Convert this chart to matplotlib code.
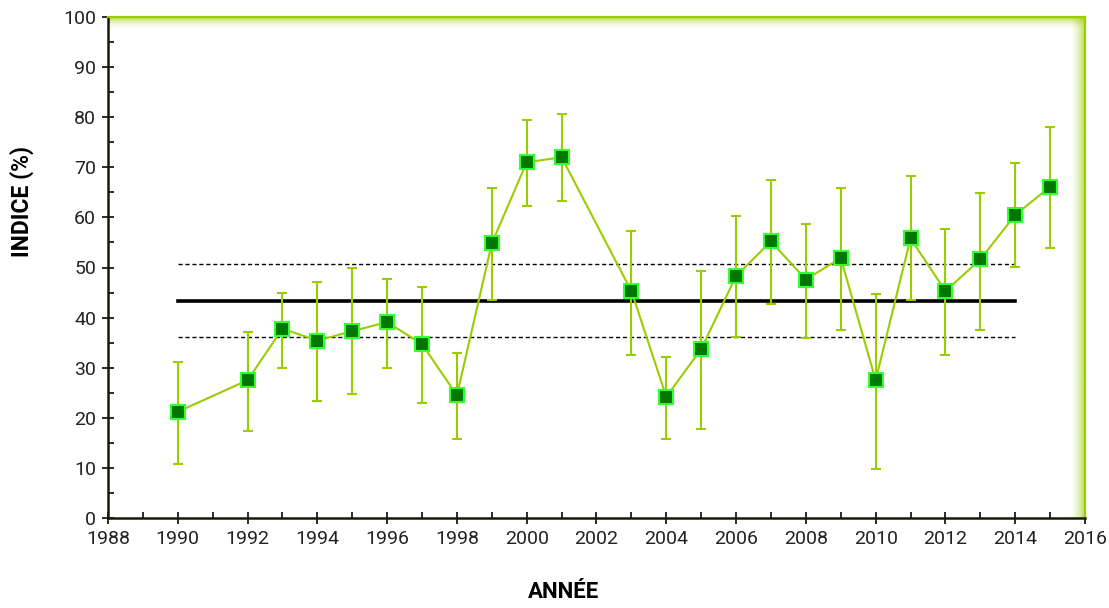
import numpy as np
import matplotlib
matplotlib.use("Agg")
import matplotlib.pyplot as plt
from matplotlib.ticker import MultipleLocator

# indice annuel et intervalle de confiance
annees = [1990, 1992, 1993, 1994, 1995, 1996, 1997, 1998, 1999, 2000, 2001,
          2003, 2004, 2005, 2006, 2007, 2008, 2009, 2010, 2011, 2012, 2013,
          2014, 2015]
indice = [21.2, 27.5, 37.8, 35.4, 37.3, 39.1, 34.7, 24.5, 54.8, 71.0, 72.0,
          45.3, 24.2, 33.7, 48.3, 55.2, 47.6, 51.9, 27.5, 55.8, 45.3, 51.6,
          60.5, 66.1]
borne_inf = [10.8, 17.4, 30.0, 23.4, 24.7, 30.0, 23.0, 15.8, 43.5, 62.3, 63.3,
             32.6, 15.8, 17.8, 36.2, 42.8, 35.9, 37.5, 9.8, 43.5, 32.5, 37.5,
             50.1, 53.8]
borne_sup = [31.2, 37.2, 45.0, 47.1, 50.0, 47.7, 46.1, 32.9, 65.9, 79.4, 80.6,
             57.3, 32.2, 49.4, 60.3, 67.5, 58.6, 65.9, 44.8, 68.2, 57.7, 64.9,
             70.9, 78.1]

# moyenne de la serie et ses bornes
moy_debut, moy_fin = 1990, 2014
moyenne = 43.3
moy_inf = 36.2
moy_sup = 50.7

VERT = "#9ACD00"
police = ["Liberation Sans Narrow", "Roboto", "DejaVu Sans"]

fig = plt.figure(figsize=(11.09, 6.08), dpi=100)
ax = fig.add_axes([108 / 1109, 90 / 608, 977 / 1109, 501 / 608])

y = np.array(indice)
yerr = [y - np.array(borne_inf), np.array(borne_sup) - y]

# lignes de moyenne
ax.plot([moy_debut, moy_fin], [moyenne, moyenne], color="black", lw=2.6, zorder=2)
ax.plot([moy_debut, moy_fin], [moy_sup, moy_sup], color="black", lw=1.0,
        dashes=(3, 2), zorder=2)
ax.plot([moy_debut, moy_fin], [moy_inf, moy_inf], color="black", lw=1.0,
        dashes=(3, 2), zorder=2)

ax.errorbar(annees, y, yerr=yerr, fmt="none", ecolor=VERT, elinewidth=1.5,
            capsize=3.6, capthick=1.5, zorder=3)
ax.plot(annees, y, color=VERT, lw=1.5, marker="s", markersize=10,
        markerfacecolor="#007800", markeredgecolor="#33FF33",
        markeredgewidth=1.5, zorder=4)

# halo vert le long du cadre haut et droit
r, g, b = matplotlib.colors.to_rgb(VERT)
haut = np.zeros((30, 2, 4))
haut[..., 0], haut[..., 1], haut[..., 2] = r, g, b
haut[..., 3] = np.linspace(0.75, 0, 30)[:, None] ** 1.5
ax.imshow(haut, extent=[0, 1, 1 - 12 / 501, 1], transform=ax.transAxes,
          aspect="auto", zorder=1, interpolation="bilinear")
droite = np.zeros((2, 30, 4))
droite[..., 0], droite[..., 1], droite[..., 2] = r, g, b
droite[..., 3] = np.linspace(0, 0.75, 30)[None, :] ** 1.5
ax.imshow(droite, extent=[1 - 15 / 977, 1, 0, 1], transform=ax.transAxes,
          aspect="auto", zorder=1, interpolation="bilinear")

ax.set_xlim(1988, 2016)
ax.set_ylim(0, 100)
ax.xaxis.set_major_locator(MultipleLocator(2))
ax.xaxis.set_minor_locator(MultipleLocator(1))
ax.yaxis.set_major_locator(MultipleLocator(10))
ax.yaxis.set_minor_locator(MultipleLocator(5))

ax.tick_params(which="major", direction="inout", length=9, width=1.3,
               color="#1a1a1a", labelsize=14, pad=4)
ax.tick_params(which="minor", direction="in", length=4, width=1.3,
               color="#1a1a1a")
for lab in ax.get_xticklabels() + ax.get_yticklabels():
    lab.set_family(police)
    lab.set_color("#222222")

for cote in ["left", "bottom"]:
    ax.spines[cote].set_color("#1a1a00")
    ax.spines[cote].set_linewidth(1.8)
for cote in ["top", "right"]:
    ax.spines[cote].set_color(VERT)
    ax.spines[cote].set_linewidth(1.6)

fig.text(22 / 1109, 1 - 201 / 608, "INDICE (%)", rotation=90, ha="center",
         va="center", fontsize=16.5, fontweight="bold", family=police)
fig.text(564 / 1109, 1 - 592 / 608, "ANNÉE", ha="center", va="center",
         fontsize=16, fontweight="bold", family=police)

fig.savefig("out.png", dpi=100, facecolor="white")
